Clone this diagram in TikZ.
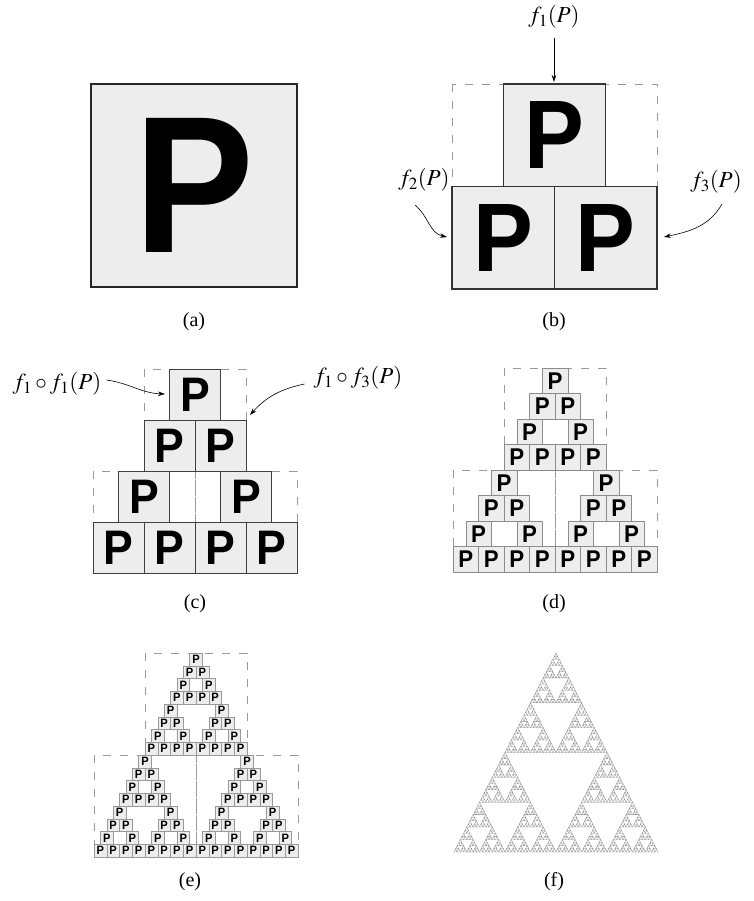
\documentclass[tikz,border=0pt]{standalone}
\usepackage{mathptmx}
\usepackage{fontspec}
\setmainfont{Liberation Serif}
\newfontfamily\Pfont{Liberation Sans}[FakeStretch=0.92]
\usetikzlibrary{arrows.meta}

\tikzset{
  pcell/.style={rectangle, fill=black!7, inner sep=0pt, outer sep=0pt, anchor=center},
  frame/.style={draw=black!40, line width=0.7pt, dash pattern=on 8pt off 9pt},
  arr/.style={-{Stealth[length=7pt,width=4.5pt]}, line width=0.6pt},
  lbl/.style={font=\fontsize{23}{25}\selectfont, inner sep=1pt},
  captext/.style={font=\fontsize{20}{22}\selectfont, inner sep=0pt},
  sier/.style={draw=black!45, line width=0.3pt}
}

% pyramid of P cells: #1 name, #2 left, #3 top, #4 size, #5 rows, #6 line width, #7 colour
\newcommand\Pyr[7]{%
  \pgfmathsetmacro\Pcs{#4/#5}%
  \pgfmathsetmacro\Pfs{0.95*\Pcs}%
  \pgfmathtruncatemacro\Prmax{#5-1}%
  \foreach \r in {0,...,\Prmax}{%
    \foreach \j in {0,...,\r}{%
      \pgfmathtruncatemacro\Pbad{mod(\j,2)*(1-mod(\r,2)) + mod(floor(\j/2),2)*(1-mod(floor(\r/2),2)) + mod(floor(\j/4),2)*(1-mod(floor(\r/4),2)) + mod(floor(\j/8),2)*(1-mod(floor(\r/8),2))}%
      \ifnum\Pbad=0
        \pgfmathsetmacro\Pcx{#2+#4/2+(\j-\r/2)*\Pcs}%
        \pgfmathsetmacro\Pcy{#3+(\r+0.5)*\Pcs}%
        \node[pcell, line width=#6, draw=#7, minimum size=\Pcs pt,
              font=\fontsize{\Pfs}{\Pfs}\selectfont\Pfont\bfseries] (#1-\r-\j) at (\Pcx,\Pcy) {P};
      \fi
    }}}

% level-1 dashed squares: #1 left, #2 top, #3 size
\newcommand\Frames[3]{%
  \draw[frame] (#1+#3/4,#2) rectangle ++(#3/2,#3/2);
  \draw[frame] (#1,#2+#3/2) rectangle ++(#3/2,#3/2);
  \draw[frame] (#1+#3/2,#2+#3/2) rectangle ++(#3/2,#3/2);}

% Sierpinski triangle: apex x, apex y, width, depth
\newcommand\Sierp[4]{%
  \ifnum#4=0
    \draw[sier] (#1,#2) -- ++(-#3/2,#3*0.975) -- ++(#3,0) -- cycle;
  \else
    \begingroup
    \pgfmathsetmacro\Sh{#3/2}%
    \pgfmathsetmacro\Sxl{#1-#3/4}%
    \pgfmathsetmacro\Sxr{#1+#3/4}%
    \pgfmathsetmacro\Syb{#2+#3*0.4875}%
    \pgfmathtruncatemacro\Sd{#4-1}%
    \edef\Snext{\noexpand\Sierp{#1}{#2}{\Sh}{\Sd}\noexpand\Sierp{\Sxl}{\Syb}{\Sh}{\Sd}\noexpand\Sierp{\Sxr}{\Syb}{\Sh}{\Sd}}%
    \expandafter\endgroup\Snext
  \fi}

\begin{document}
\begin{tikzpicture}[x=1pt,y=-1pt]
\useasboundingbox (0,0) rectangle (753,901);
\fill[white] (0,0) rectangle (753,901);

% (a)
\node[pcell, line width=2.6pt, draw=black!85, minimum width=206pt, minimum height=203pt,
      font=\fontsize{195}{195}\selectfont\Pfont\bfseries] (pa) at (194,185.5) {P};
\node[captext] (capa) at (194,322) {(a)};

% (b)
\draw[frame] (452,84) rectangle ++(205,205);
\Pyr{pb}{452}{84}{205}{2}{1.2pt}{black!80}
\node[captext] (capb) at (554,322) {(b)};
\node[lbl] (lf1) at (554,17) {$f_1(P)$};
\coordinate (t1) at (554,82);
\draw[arr, shorten <=8pt] (lf1.south) -- (t1);
\node[lbl] (lf2) at (424,180) {$f_2(P)$};
\coordinate (s2) at (415,205);
\coordinate (t2) at (447,237);
\draw[arr] (s2) to[out=-40,in=168] (t2);
\node[lbl] (lf3) at (716,182) {$f_3(P)$};
\coordinate (s3) at (722,204);
\coordinate (t3) at (664,237);
\draw[arr] (s3) to[out=-120,in=12] (t3);

% (c)
\Frames{93}{369}{204}
\Pyr{pc}{93}{369}{204}{4}{0.8pt}{black!75}
\node[captext] (capc) at (195,604) {(c)};
\node[lbl] (lf11) at (57,384) {$f_1\circ f_1(P)$};
\coordinate (t11) at (165,394);
\draw[arr] (lf11.east) ++(4pt,4pt) to[out=-8,in=178] (t11);
\node[lbl] (lf13) at (358,378) {$f_1\circ f_3(P)$};
\coordinate (t13) at (250,415);
\draw[arr] (lf13.west) ++(-8pt,-6pt) to[out=192,in=48] (t13);

% (d)
\Frames{453}{368}{204}
\Pyr{pd}{453}{368}{204}{8}{0.5pt}{black!45}
\node[captext] (capd) at (554,604) {(d)};

% (e)
\Frames{94}{653}{204}
\Pyr{pe}{94}{653}{204}{16}{0.4pt}{black!40}
\node[captext] (cape) at (190,882) {(e)};

% (f)
\Sierp{556}{653}{204}{6}
\node[captext] (capf) at (554,882) {(f)};
\end{tikzpicture}
\end{document}
